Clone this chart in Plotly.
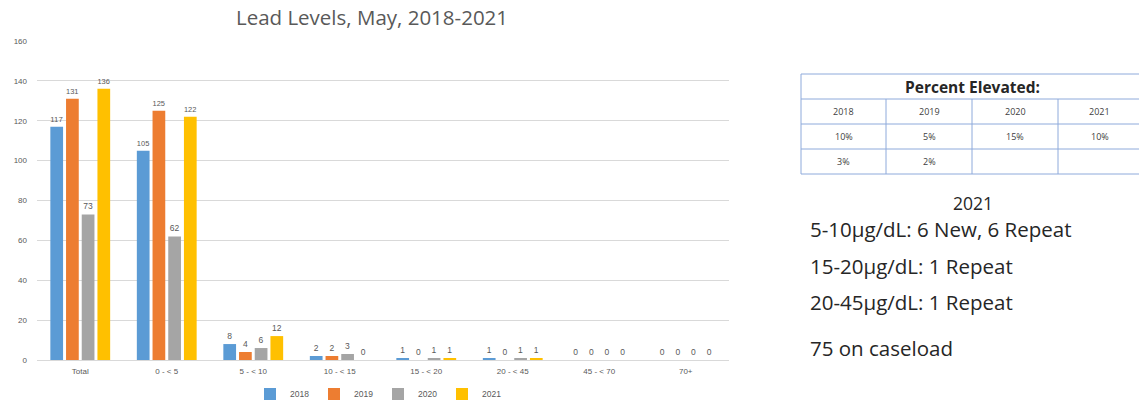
import plotly.graph_objects as go

W, H = 1139, 402

categories = ["Total", "0 - < 5", "5 - < 10", "10 - < 15", "15 - < 20", "20 - < 45", "45 - < 70", "70+"]
years = ["2018", "2019", "2020", "2021"]
v2018 = [117, 105, 8, 2, 1, 1, 0, 0]
v2019 = [131, 125, 4, 2, 0, 0, 0, 0]
v2020 = [73, 62, 6, 3, 1, 1, 0, 0]
v2021 = [136, 122, 12, 0, 1, 1, 0, 0]
series = [v2018, v2019, v2020, v2021]
colors = ["#5B9BD5", "#ED7D31", "#A5A5A5", "#FFC000"]

y_ticks = [0, 20, 40, 60, 80, 100, 120, 140, 160]

table_title = "Percent Elevated:"
table_header = ["2018", "2019", "2020", "2021"]
table_row1 = ["10%", "5%", "15%", "10%"]
table_row2 = ["3%", "2%", "", ""]

notes_title = "2021"
notes = ["5-10µg/dL: 6 New, 6 Repeat", "15-20µg/dL: 1 Repeat", "20-45µg/dL: 1 Repeat", "75 on caseload"]


def px(x):
    return x / W


def py(y):
    return 1 - y / H


fig = go.Figure()
for name, vals, c in zip(years, series, colors):
    fig.add_trace(go.Bar(
        x=categories, y=vals, name=name, marker=dict(color=c, line=dict(width=0)),
        text=[str(v) for v in vals], textposition="outside",
        textfont=dict(size=8.5, color="#595959", family="Liberation Sans"),
        cliponaxis=False,
    ))

shapes = []
annotations = []

# Table
tx = [801, 886, 972, 1058, 1145]
ty = [74, 99, 124, 149, 174]
line = dict(color="#8EAADB", width=1)
shapes.append(dict(type="rect", xref="paper", yref="paper", x0=px(tx[0]), x1=px(tx[-1]),
                   y0=py(ty[0]), y1=py(ty[-1]), line=line))
for yy in ty[1:-1]:
    shapes.append(dict(type="line", xref="paper", yref="paper", x0=px(tx[0]), x1=px(tx[-1]),
                       y0=py(yy), y1=py(yy), line=line))
for xx in tx[1:-1]:
    shapes.append(dict(type="line", xref="paper", yref="paper", x0=px(xx), x1=px(xx),
                       y0=py(ty[1]), y1=py(ty[-1]), line=line))
annotations.append(dict(text="<b>" + table_title + "</b>", xref="paper", yref="paper",
                        x=px(972), y=py((ty[0] + ty[1]) / 2),
                        showarrow=False, xanchor="center", yanchor="middle",
                        font=dict(size=15.5, color="#262626", family="Open Sans")))
for r, row in enumerate([table_header, table_row1, table_row2]):
    for ci, cell in enumerate(row):
        if not cell:
            continue
        annotations.append(dict(text=cell, xref="paper", yref="paper",
                                x=px((tx[ci] + min(tx[ci + 1], 1143)) / 2 + (0 if ci < 3 else -1)),
                                y=py((ty[r + 1] + ty[r + 2]) / 2),
                                showarrow=False, xanchor="center", yanchor="middle",
                                font=dict(size=9, color="#404040", family="Open Sans")))

# Notes
annotations.append(dict(text=notes_title, xref="paper", yref="paper", x=px(973), y=py(203),
                        showarrow=False, xanchor="center", yanchor="middle",
                        font=dict(size=17.5, color="#262626", family="Open Sans")))
for txt, yy in zip(notes, [229, 266, 302, 348]):
    annotations.append(dict(text=txt, xref="paper", yref="paper", x=px(808), y=py(yy),
                            showarrow=False, xanchor="left", yanchor="middle",
                            font=dict(size=20.5, color="#262626", family="Open Sans")))

fig.update_layout(
    width=W, height=H,
    margin=dict(l=0, r=0, t=0, b=0, autoexpand=False),
    paper_bgcolor="white", plot_bgcolor="white",
    barmode="group", bargap=0.274, bargroupgap=0.19,
    title=dict(text="Lead Levels, May, 2018-2021", x=px(372), xanchor="center",
               y=py(18), yanchor="middle",
               font=dict(size=20.5, color="#595959", family="Open Sans")),
    xaxis=dict(domain=[px(37), px(729)], tickfont=dict(size=8, color="#595959", family="Liberation Sans"),
               ticklabelstandoff=5,
               showline=False, showgrid=False, ticks="", automargin=False),
    yaxis=dict(domain=[py(360), py(41)], range=[0, 160], tickvals=y_ticks,
               tickfont=dict(size=8, color="#595959", family="Liberation Sans"),
               ticklabelstandoff=9,
               showgrid=True, gridcolor="#D9D9D9", gridwidth=1, zeroline=True,
               zerolinecolor="#D9D9D9", zerolinewidth=1, showline=False, ticks="", automargin=False),
    legend=dict(orientation="h", x=px(378), xanchor="center", y=py(394), yanchor="middle",
                font=dict(size=8.5, color="#595959", family="Liberation Sans"),
                itemwidth=30, traceorder="normal", tracegroupgap=0,
                entrywidth=19, entrywidthmode="pixels"),
    shapes=shapes, annotations=annotations,
    showlegend=True,
)

fig.write_html("out.html", config={"displayModeBar": False},
               post_script="document.body.style.margin='0';")
